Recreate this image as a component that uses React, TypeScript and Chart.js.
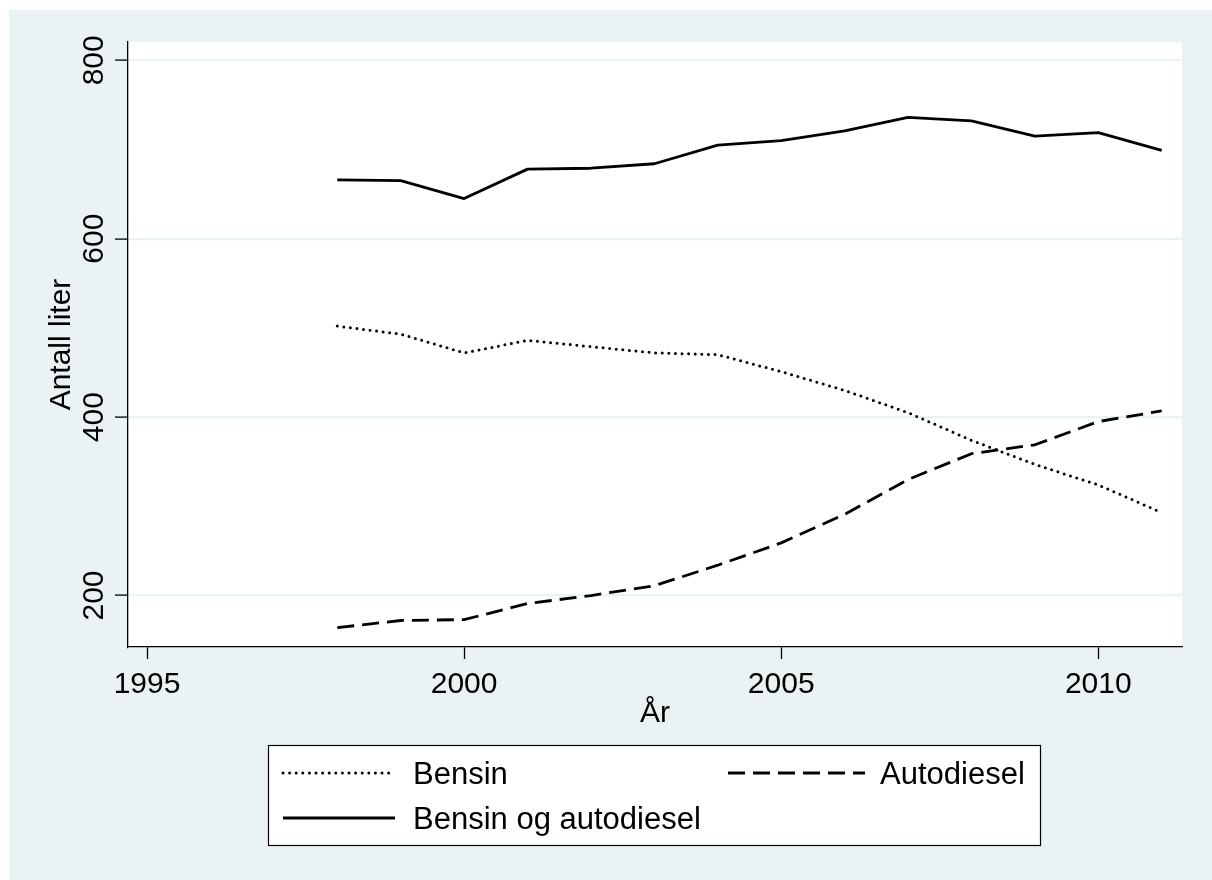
import { useEffect, useRef } from "react";
import { Chart, registerables } from "chart.js";

Chart.register(...registerables);

// Yearly fuel sales per vehicle, in litres
const years = [1998, 1999, 2000, 2001, 2002, 2003, 2004, 2005, 2006, 2007, 2008, 2009, 2010, 2011];
const bensin = [502, 493, 472, 486, 479, 472, 470, 451, 430, 405, 374, 347, 324, 293];
const autodiesel = [164, 172, 173, 191, 200, 211, 234, 259, 291, 330, 359, 369, 395, 407];
const bensinOgAutodiesel = [666, 665, 645, 678, 679, 684, 705, 710, 721, 736, 732, 715, 719, 699];

const xTicks = [1995, 2000, 2005, 2010];
const yTicks = [200, 400, 600, 800];
const seriesLabels = ["Bensin", "Autodiesel", "Bensin og autodiesel"];
const xTitle = "År";
const yTitle = "Antall liter";

const BG = "#EAF2F3";
const INK = "#000000";
const FAMILY = '"Liberation Sans", Arial, Helvetica, sans-serif';
const AXIS_FONT = `30px ${FAMILY}`;
const LEGEND_FONT = `31px ${FAMILY}`;

const lineStyles = [
  { borderDash: [0, 6.6], borderCapStyle: "round" as const, borderWidth: 3 },
  { borderDash: [17, 8], borderCapStyle: "butt" as const, borderWidth: 2.8 },
  { borderDash: [] as number[], borderCapStyle: "butt" as const, borderWidth: 2.8 },
];

const pairs = (vals: number[]) => years.map((yr, i) => ({ x: yr, y: vals[i] }));

const framePlugin = {
  id: "frame",
  beforeDraw(chart: any) {
    const { ctx, chartArea: a, width, height } = chart;
    ctx.save();
    ctx.fillStyle = "#ffffff";
    ctx.fillRect(0, 0, width, height);
    ctx.fillStyle = BG;
    ctx.fillRect(9, 10, width - 9, height - 10);
    ctx.fillStyle = "#ffffff";
    ctx.fillRect(a.left, a.top, a.right - a.left, a.bottom - a.top);
    ctx.restore();
  },
  afterDraw(chart: any) {
    const { ctx, chartArea: a } = chart;
    const xs = chart.scales.x;
    const ys = chart.scales.y;
    ctx.save();
    ctx.fillStyle = INK;
    ctx.font = AXIS_FONT;
    ctx.textBaseline = "alphabetic";
    ctx.textAlign = "center";

    // x tick labels and title
    xs.ticks.forEach((t: any) => {
      ctx.fillText(String(t.value), xs.getPixelForValue(t.value), xs.top + 46);
    });
    ctx.fillText(xTitle, (a.left + a.right) / 2, xs.top + 75);

    // y tick labels and title, rotated to read upwards
    ys.ticks.forEach((t: any) => {
      ctx.save();
      ctx.translate(ys.right - 25, ys.getPixelForValue(t.value));
      ctx.rotate(-Math.PI / 2);
      ctx.fillText(String(t.value), 0, 0);
      ctx.restore();
    });
    ctx.save();
    ctx.translate(ys.right - 58, (a.top + a.bottom) / 2);
    ctx.rotate(-Math.PI / 2);
    ctx.fillText(yTitle, 0, 0);
    ctx.restore();

    // legend box
    const bx = 268, by = 745, bw = 772, bh = 100;
    ctx.fillStyle = "#ffffff";
    ctx.fillRect(bx, by, bw, bh);
    ctx.strokeStyle = INK;
    ctx.lineWidth = 1.2;
    ctx.setLineDash([]);
    ctx.strokeRect(bx + 0.5, by + 0.5, bw, bh);

    const entries = [
      { x0: 283, x1: 395, tx: 413, y: 773 },
      { x0: 728, x1: 865, tx: 880, y: 773 },
      { x0: 283, x1: 395, tx: 413, y: 818 },
    ];
    ctx.font = LEGEND_FONT;
    entries.forEach((e, i) => {
      const st = lineStyles[i];
      ctx.save();
      ctx.strokeStyle = INK;
      ctx.lineWidth = st.borderWidth;
      ctx.lineCap = st.borderCapStyle;
      ctx.setLineDash(st.borderDash);
      ctx.beginPath();
      ctx.moveTo(e.x0, e.y);
      ctx.lineTo(e.x1, e.y);
      ctx.stroke();
      ctx.restore();
      ctx.fillStyle = INK;
      ctx.textAlign = "left";
      ctx.fillText(seriesLabels[i], e.tx, e.y + 11);
    });
    ctx.restore();
  },
};

export default function App() {
  const canvasRef = useRef<HTMLCanvasElement | null>(null);

  useEffect(() => {
    const canvas = canvasRef.current;
    if (!canvas) return;
    const seriesData = [bensin, autodiesel, bensinOgAutodiesel];
    const chart = new Chart(canvas, {
      type: "line",
      data: {
        datasets: seriesData.map((vals, i) => ({
          label: seriesLabels[i],
          data: pairs(vals),
          borderColor: INK,
          backgroundColor: INK,
          borderWidth: lineStyles[i].borderWidth,
          borderDash: lineStyles[i].borderDash,
          borderCapStyle: lineStyles[i].borderCapStyle,
          borderJoinStyle: "round" as const,
          pointRadius: 0,
          tension: 0,
          fill: false,
        })),
      },
      options: {
        responsive: false,
        animation: false,
        events: [],
        layout: { padding: { left: 0, top: 42, right: 30, bottom: 0 } },
        plugins: {
          legend: { display: false },
          tooltip: { enabled: false },
          title: { display: false },
        },
        scales: {
          x: {
            type: "linear",
            position: "bottom",
            min: 1994.7,
            max: 2011.32,
            afterBuildTicks: (s: any) => {
              s.ticks = xTicks.map((v) => ({ value: v }));
            },
            afterFit: (s: any) => {
              s.height = 233;
            },
            ticks: { display: false },
            grid: {
              display: true,
              drawOnChartArea: false,
              drawTicks: true,
              tickLength: 12,
              tickColor: INK,
              tickWidth: 1.3,
            },
            border: { display: true, color: INK, width: 1.3 },
          },
          y: {
            type: "linear",
            position: "left",
            min: 142.3,
            max: 820.5,
            afterBuildTicks: (s: any) => {
              s.ticks = yTicks.map((v) => ({ value: v }));
            },
            afterFit: (s: any) => {
              s.width = 128;
            },
            ticks: { display: false },
            grid: {
              display: true,
              drawOnChartArea: true,
              color: BG,
              lineWidth: 2.2,
              drawTicks: true,
              tickLength: 13,
              tickColor: INK,
              tickWidth: 1.3,
            },
            border: { display: true, color: INK, width: 1.3 },
          },
        },
      },
      plugins: [framePlugin],
    });
    return () => chart.destroy();
  }, []);

  return (
    <div style={{ position: "absolute", left: 0, top: 0, width: 1212, height: 880 }}>
      <canvas ref={canvasRef} width={1212} height={880} style={{ display: "block" }} />
    </div>
  );
}
